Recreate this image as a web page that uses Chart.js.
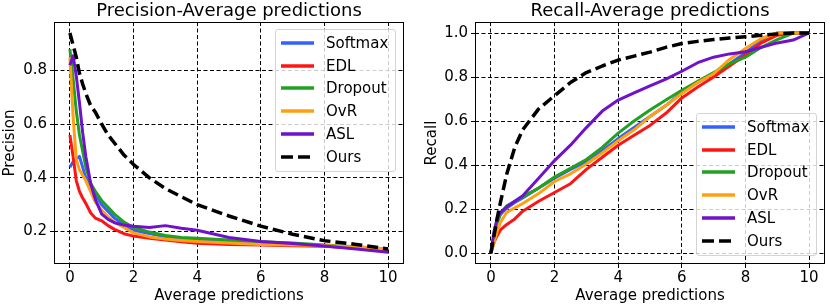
<!DOCTYPE html>
<html>
<head>
<meta charset="utf-8">
<script src="https://cdn.jsdelivr.net/npm/chart.js@4.4.1/dist/chart.umd.min.js"></script>
<style>
html,body{margin:0;padding:0;background:#fff;}
#wrap{position:relative;width:830px;height:307px;overflow:hidden;font-family:"DejaVu Sans",sans-serif;}
canvas{position:absolute;top:0;}
.lg{position:absolute;box-sizing:border-box;width:121px;height:143px;border:1px solid #d4d4d4;border-radius:3px;background:rgba(255,255,255,0.8);}
.lg svg{position:absolute;left:5px;width:34px;height:8px;}
.lg span{position:absolute;left:50px;height:20px;line-height:20px;font-size:15px;color:#000;white-space:nowrap;}
</style>
</head>
<body>
<div id="wrap">
  <canvas id="c1" width="415" height="307" style="left:0"></canvas>
  <canvas id="c2" width="415" height="307" style="left:415px"></canvas>
</div>
<script>
// ---------- data ----------
const methods = ['Softmax', 'EDL', 'Dropout', 'OvR', 'ASL', 'Ours'];
const colors  = ['#3460ff', '#ff1414', '#22a022', '#ffa010', '#7012cc', '#000000'];

const xTicks    = [0, 2, 4, 6, 8, 10];
const precTicks = [0.2, 0.4, 0.6, 0.8];
const recTicks  = [0, 0.2, 0.4, 0.6, 0.8, 1.0];

// Precision vs average predictions
const xPrec       = [0,    0.1,  0.2,  0.3,  0.4,  0.5,  0.65, 0.8,  1.0,  1.2,  1.4,  1.7,  2.0,  2.5,  3.0,  3.5,  4.0,  5.0,  6.0,  7.0,  8.0,  9.0,  10];
const precSoftmax = [0.44, 0.46, 0.47, 0.48, 0.44, 0.40, 0.37, 0.34, 0.30, 0.275,0.25, 0.225,0.205,0.193,0.18, 0.172,0.168,0.162,0.157,0.153,0.147,0.14, 0.132];
const precEDL     = [0.56, 0.48, 0.39, 0.35, 0.325,0.305,0.27, 0.25, 0.24, 0.222,0.208,0.192,0.183,0.175,0.168,0.162,0.156,0.152,0.15, 0.147,0.145,0.138,0.13];
const precDropout = [0.88, 0.77, 0.65, 0.56, 0.50, 0.44, 0.38, 0.35, 0.315,0.29, 0.265,0.235,0.215,0.198,0.185,0.178,0.175,0.168,0.162,0.157,0.15, 0.143,0.135];
const precOvR     = [0.85, 0.63, 0.47, 0.43, 0.41, 0.39, 0.35, 0.31, 0.28, 0.255,0.235,0.215,0.195,0.18, 0.172,0.167,0.163,0.157,0.152,0.15, 0.148,0.142,0.135];
const precASL     = [0.82, 0.855,0.78, 0.68, 0.57, 0.48, 0.38, 0.32, 0.265,0.245,0.233,0.224,0.22, 0.215,0.222,0.212,0.205,0.178,0.163,0.155,0.146,0.135,0.123];
const precOurs    = [0.94, 0.895,0.85, 0.79, 0.75, 0.715,0.67, 0.645,0.60, 0.56, 0.53, 0.485,0.45, 0.40, 0.36, 0.33, 0.30, 0.258,0.22, 0.19, 0.166,0.152,0.135];

// Recall vs average predictions
const xRec       = [0, 0.1,  0.2,  0.3,  0.5,  0.75, 1.0,  1.5,  2.0,  2.5,  3.0,  3.5,  4.0,  4.5,  5.0,  5.5,  6.0,  6.5,  7.0,  7.5,  8.0,  8.5,  9.0,  9.5,  10];
const recSoftmax = [0, 0.08, 0.14, 0.175,0.205,0.23, 0.25, 0.295,0.34, 0.38, 0.415,0.465,0.52, 0.57, 0.62, 0.67, 0.73, 0.775,0.815,0.86, 0.91, 0.97, 1.0,  1.0,  1.0];
const recEDL     = [0, 0.05, 0.08, 0.105,0.13, 0.155,0.19, 0.235,0.275,0.315,0.38, 0.435,0.49, 0.535,0.58, 0.635,0.705,0.755,0.80, 0.85, 0.90, 0.955,0.99, 1.0,  1.0];
const recDropout = [0, 0.08, 0.14, 0.18, 0.215,0.235,0.255,0.295,0.345,0.385,0.425,0.48, 0.545,0.60, 0.65, 0.695,0.74, 0.78, 0.82, 0.86, 0.89, 0.935,0.97, 1.0,  1.0];
const recOvR     = [0, 0.05, 0.10, 0.14, 0.185,0.205,0.225,0.27, 0.325,0.36, 0.405,0.455,0.51, 0.56, 0.62, 0.67, 0.725,0.775,0.815,0.88, 0.93, 0.975,1.0,  1.0,  1.0];
const recASL     = [0, 0.10, 0.16, 0.185,0.21, 0.235,0.26, 0.34, 0.42, 0.49, 0.57, 0.645,0.695,0.728,0.76, 0.79, 0.826,0.865,0.89, 0.905,0.915,0.935,0.955,0.968,1.0];
const recOurs    = [0, 0.08, 0.16, 0.23, 0.36, 0.48, 0.56, 0.655,0.715,0.775,0.82, 0.85, 0.877,0.895,0.913,0.935,0.952,0.962,0.97, 0.977,0.983,0.99, 0.996,1.0,  1.0];

const precSeries = [precSoftmax, precEDL, precDropout, precOvR, precASL, precOurs];
const recSeries  = [recSoftmax, recEDL, recDropout, recOvR, recASL, recOurs];

// ---------- chart ----------
const FONT = '"DejaVu Sans", sans-serif';
const drawOrder = [5, 4, 3, 2, 1, 0];

const framePlugin = {
  id: 'frame',
  afterDatasetsDraw(chart) {
    const a = chart.chartArea, ctx = chart.ctx;
    ctx.save();
    ctx.strokeStyle = '#000';
    ctx.lineWidth = 1;
    ctx.setLineDash([]);
    ctx.strokeRect(Math.round(a.left) + 0.5, Math.round(a.top) + 0.5,
                   Math.round(a.right - a.left) - 1, Math.round(a.bottom - a.top) - 1);
    ctx.restore();
  }
};

function makeChart(id, title, yTitle, xs, series, yMin, yMax, yTicks, yWidth, yTitlePad, rightPad) {
  const datasets = methods.map((m, k) => ({
    label: m,
    data: xs.map((x, i) => ({ x: x, y: series[k][i] })),
    borderColor: colors[k],
    backgroundColor: colors[k],
    borderWidth: m === 'Ours' ? 3.5 : 3,
    borderDash: m === 'Ours' ? [11, 5] : [],
    borderCapStyle: 'butt',
    borderJoinStyle: 'round',
    pointRadius: 0,
    tension: 0,
    fill: false,
    order: drawOrder[k]
  }));
  return new Chart(document.getElementById(id), {
    type: 'line',
    data: { datasets },
    plugins: [framePlugin],
    options: {
      responsive: false,
      animation: false,
      devicePixelRatio: 1,
      layout: { padding: { top: 0, right: rightPad, bottom: 0, left: 0 } },
      plugins: {
        legend: { display: false },
        tooltip: { enabled: false },
        title: {
          display: true, text: title, fullSize: false, color: '#000',
          font: { family: FONT, size: 18, weight: 'normal' },
          padding: { top: 0.4, bottom: 0 }
        }
      },
      scales: {
        x: {
          type: 'linear', min: -0.5, max: 10.5,
          afterBuildTicks: s => { s.ticks = xTicks.map(v => ({ value: v })); },
          afterFit: s => { s.height = 43; },
          grid: { color: '#000', lineWidth: 1, tickLength: 4, tickColor: '#000', tickWidth: 1, tickBorderDash: [] },
          border: { display: false, dash: [4, 2.5] },
          ticks: { font: { family: FONT, size: 15 }, color: '#000', padding: 1, maxRotation: 0, autoSkip: false,
                   callback: v => String(v) },
          title: { display: true, text: 'Average predictions', color: '#000',
                   font: { family: FONT, size: 15 }, padding: { top: 0, bottom: 2 } }
        },
        y: {
          type: 'linear', min: yMin, max: yMax,
          afterBuildTicks: s => { s.ticks = yTicks.map(v => ({ value: v })); },
          afterFit: s => { s.width = yWidth; },
          grid: { color: '#000', lineWidth: 1, tickLength: 4, tickColor: '#000', tickWidth: 1, tickBorderDash: [] },
          border: { display: false, dash: [4, 2.5] },
          ticks: { font: { family: FONT, size: 15 }, color: '#000', padding: 3, autoSkip: false,
                   callback: v => Number(v).toFixed(1) },
          title: { display: true, text: yTitle, color: '#000',
                   font: { family: FONT, size: 15 }, padding: { top: yTitlePad, bottom: 0 } }
        }
      }
    }
  });
}

makeChart('c1', 'Precision-Average predictions', 'Precision', xPrec, precSeries,
          0.079, 0.981, precTicks, 54, 1, 11);
makeChart('c2', 'Recall-Average predictions', 'Recall', xRec, recSeries,
          -0.05, 1.05, recTicks, 60, 8, 5);

// ---------- legends ----------
function buildLegend(left, top) {
  const box = document.createElement('div');
  box.className = 'lg';
  box.style.left = left + 'px';
  box.style.top = top + 'px';
  methods.forEach((m, k) => {
    const cy = 13 + k * 22.7;
    const dashed = m === 'Ours';
    const svg = document.createElementNS('http://www.w3.org/2000/svg', 'svg');
    svg.setAttribute('width', '34'); svg.setAttribute('height', '8');
    svg.style.top = (cy - 4) + 'px';
    const ln = document.createElementNS('http://www.w3.org/2000/svg', 'line');
    ln.setAttribute('x1', '0'); ln.setAttribute('x2', '33');
    ln.setAttribute('y1', '4'); ln.setAttribute('y2', '4');
    ln.setAttribute('stroke', colors[k]);
    ln.setAttribute('stroke-width', '3.5');
    if (dashed) ln.setAttribute('stroke-dasharray', '12 5');
    svg.appendChild(ln);
    box.appendChild(svg);
    const sp = document.createElement('span');
    sp.textContent = m;
    sp.style.top = (cy - 10) + 'px';
    box.appendChild(sp);
  });
  document.getElementById('wrap').appendChild(box);
}
buildLegend(275, 29);
buildLegend(696, 113);
</script>
</body>
</html>
